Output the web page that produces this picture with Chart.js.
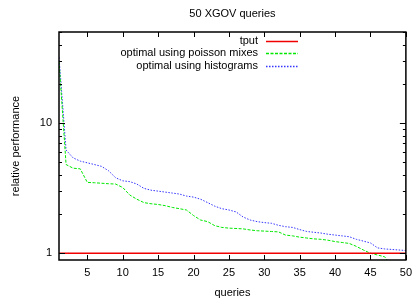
<!DOCTYPE html>
<html>
<head>
<meta charset="utf-8">
<script src="https://cdn.jsdelivr.net/npm/chart.js@4/dist/chart.umd.min.js"></script>
<style>
  html, body { margin: 0; padding: 0; background: #fff; }
  #wrap { width: 418px; height: 300px; }
</style>
</head>
<body>
<div id="wrap"><canvas id="chart"></canvas></div>
<script>
// query index 1..50
const queries = [1, 2, 3, 4, 5, 6, 7, 8, 9, 10, 11, 12, 13, 14, 15, 16, 17, 18, 19, 20,
  21, 22, 23, 24, 25, 26, 27, 28, 29, 30, 31, 32, 33, 34, 35, 36, 37, 38, 39, 40,
  41, 42, 43, 44, 45, 46, 47, 48, 49, 50];

const tput = [1, 1, 1, 1, 1, 1, 1, 1, 1, 1, 1, 1, 1, 1, 1, 1, 1, 1, 1, 1,
  1, 1, 1, 1, 1, 1, 1, 1, 1, 1, 1, 1, 1, 1, 1, 1, 1, 1, 1, 1,
  1, 1, 1, 1, 1, 1, 1, 1, 1, 1];

const poissonMixes = [30, 4.8, 4.5, 4.45, 3.5, 3.48, 3.45, 3.42, 3.4, 3.2,
  2.8, 2.6, 2.45, 2.4, 2.37, 2.32, 2.25, 2.2, 2.15, 1.95,
  1.8, 1.75, 1.63, 1.58, 1.56, 1.55, 1.54, 1.51, 1.49, 1.48,
  1.47, 1.46, 1.38, 1.36, 1.33, 1.31, 1.29, 1.28, 1.26, 1.23,
  1.21, 1.19, 1.13, 1.06, 1.0, 0.97, 0.94, 0.8, 0.75, 0.7];

const histograms = [32, 6.2, 5.4, 5.1, 4.95, 4.8, 4.65, 4.3, 3.8, 3.6,
  3.55, 3.4, 3.15, 3.05, 3.0, 2.95, 2.9, 2.85, 2.75, 2.7,
  2.6, 2.45, 2.3, 2.2, 2.15, 2.08, 1.9, 1.8, 1.75, 1.72,
  1.7, 1.64, 1.6, 1.58, 1.52, 1.47, 1.45, 1.43, 1.4, 1.38,
  1.36, 1.34, 1.28, 1.24, 1.2, 1.1, 1.08, 1.07, 1.06, 1.05];

const xTicks = [5, 10, 15, 20, 25, 30, 35, 40, 45, 50];
const yLabelTicks = [1, 10];
const yMinorTicks = [2, 3, 4, 5, 6, 7, 8, 9, 20, 30, 40, 50];

const FONT = 'Liberation Sans, Arial, Helvetica, sans-serif';
const pts = ys => queries.map((q, i) => ({ x: q, y: ys[i] }));

// gnuplot-style frame, inward ticks and key
const gnuplotFrame = {
  id: 'gnuplotFrame',
  afterDraw(chart) {
    const { ctx, chartArea: a, scales } = chart;
    const xs = scales.x, ys = scales.y;
    ctx.save();
    ctx.strokeStyle = '#000';
    ctx.lineWidth = 1;
    ctx.beginPath();
    xTicks.forEach(v => {
      const px = Math.round(xs.getPixelForValue(v)) + 0.5;
      ctx.moveTo(px, a.bottom); ctx.lineTo(px, a.bottom - 5);
      ctx.moveTo(px, a.top); ctx.lineTo(px, a.top + 5);
    });
    yLabelTicks.forEach(v => {
      const py = Math.round(ys.getPixelForValue(v)) + 0.5;
      ctx.moveTo(a.left, py); ctx.lineTo(a.left + 6, py);
      ctx.moveTo(a.right, py); ctx.lineTo(a.right - 6, py);
    });
    yMinorTicks.forEach(v => {
      const py = Math.round(ys.getPixelForValue(v)) + 0.5;
      ctx.moveTo(a.left, py); ctx.lineTo(a.left + 3, py);
      ctx.moveTo(a.right, py); ctx.lineTo(a.right - 3, py);
    });
    ctx.stroke();
    ctx.lineWidth = 1.5;
    ctx.strokeRect(a.left, a.top, a.right - a.left, a.bottom - a.top);

    // key
    ctx.font = '11px ' + FONT;
    ctx.textAlign = 'right';
    ctx.textBaseline = 'middle';
    chart.data.datasets.forEach((ds, i) => {
      const y = Math.round(41 + i * 12.3);
      ctx.fillStyle = '#000';
      ctx.fillText(ds.label, 258, y);
      ctx.strokeStyle = ds.borderColor;
      ctx.lineWidth = 1.5;
      ctx.setLineDash(ds.borderDash || []);
      ctx.beginPath();
      ctx.moveTo(266, y + 0.5);
      ctx.lineTo(298, y + 0.5);
      ctx.stroke();
    });
    ctx.restore();
  }
};

new Chart(document.getElementById('chart'), {
  type: 'line',
  data: {
    datasets: [
      {
        label: 'tput',
        data: pts(tput),
        borderColor: '#f00000',
        borderWidth: 1.5,
        pointRadius: 0,
        tension: 0
      },
      {
        label: 'optimal using poisson mixes',
        data: pts(poissonMixes),
        borderColor: '#00e800',
        borderWidth: 1,
        borderDash: [3, 1.5],
        pointRadius: 0,
        tension: 0
      },
      {
        label: 'optimal using histograms',
        data: pts(histograms),
        borderColor: '#3535ff',
        borderWidth: 1,
        borderDash: [1.5, 1.5],
        pointRadius: 0,
        tension: 0
      }
    ]
  },
  options: {
    responsive: true,
    maintainAspectRatio: false,
    animation: false,
    layout: { padding: { left: 0, right: 5, top: 0, bottom: 0 } },
    plugins: {
      legend: { display: false },
      tooltip: { enabled: false },
      title: {
        display: true,
        text: '50 XGOV queries',
        fullSize: false,
        color: '#000',
        font: { family: FONT, size: 11, weight: 'normal' },
        padding: { top: 7.4, bottom: 11.4 }
      }
    },
    scales: {
      x: {
        type: 'linear',
        min: 1,
        max: 50,
        grid: { display: false, drawTicks: false },
        border: { display: false },
        afterBuildTicks: s => { s.ticks = xTicks.map(v => ({ value: v })); },
        afterFit: s => { s.height = 40; },
        ticks: {
          padding: 6,
          color: '#000',
          maxRotation: 0,
          font: { family: FONT, size: 11 }
        },
        title: {
          display: true,
          text: 'queries',
          color: '#000',
          font: { family: FONT, size: 11 },
          padding: { top: 3.4, bottom: 0 }
        }
      },
      y: {
        type: 'logarithmic',
        min: 0.888,
        max: 50,
        grid: { display: false, drawTicks: false },
        border: { display: false },
        afterBuildTicks: s => { s.ticks = yLabelTicks.map(v => ({ value: v })); },
        afterFit: s => { s.width = 59; },
        ticks: {
          padding: 7,
          color: '#000',
          font: { family: FONT, size: 11 },
          callback: v => String(v)
        },
        title: {
          display: true,
          text: 'relative performance',
          color: '#000',
          font: { family: FONT, size: 11 },
          padding: { top: 9, bottom: 0 }
        }
      }
    }
  },
  plugins: [gnuplotFrame]
});
</script>
</body>
</html>
